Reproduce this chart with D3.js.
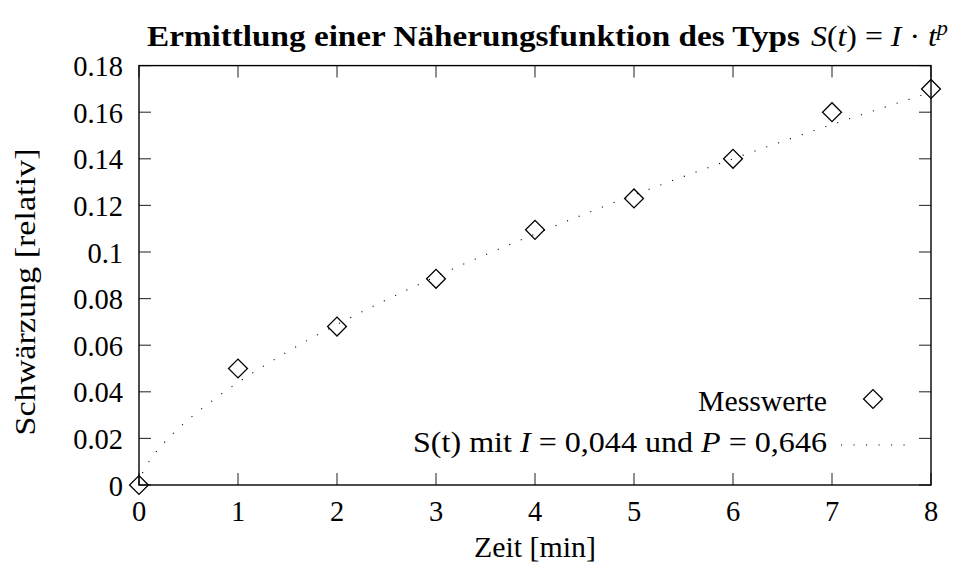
<!DOCTYPE html>
<html>
<head>
<meta charset="utf-8">
<script src="https://cdn.jsdelivr.net/npm/d3@7"></script>
<style>
  html, body { margin: 0; padding: 0; background: #fff; }
  svg { display: block; }
  text { font-family: "Liberation Serif", "Times New Roman", serif; fill: #000; }
</style>
</head>
<body>
<svg id="chart" width="954" height="565"></svg>
<script>
// ---- data ----
const measT = [0, 1, 2, 3, 4, 5, 6, 7, 8];
const measS = [0, 0.050, 0.068, 0.0885, 0.1095, 0.123, 0.140, 0.160, 0.170];

// fitted curve S(t) as drawn
const curveT = [0, 0.02, 0.05, 0.1, 0.2, 0.3, 0.5, 0.75, 1, 1.5, 2, 2.5, 3, 4, 5, 6, 7, 8];
const curveS = [0, 0.0035, 0.0064, 0.0100, 0.0156, 0.0202, 0.0281, 0.0365, 0.044, 0.0572, 0.0689, 0.0795, 0.0895, 0.1077, 0.1245, 0.1400, 0.1547, 0.1686];

const xTicks = [0, 1, 2, 3, 4, 5, 6, 7, 8];
const xTickLabels = ["0", "1", "2", "3", "4", "5", "6", "7", "8"];
const yTicks = [0, 0.02, 0.04, 0.06, 0.08, 0.1, 0.12, 0.14, 0.16, 0.18];
const yTickLabels = ["0", "0.02", "0.04", "0.06", "0.08", "0.1", "0.12", "0.14", "0.16", "0.18"];

const xLabel = "Zeit [min]";
const yLabel = "Schwärzung [relativ]";
const titleText = "Ermittlung einer Näherungsfunktion des Typs";
const legendMeas = "Messwerte";

// ---- layout ----
const L = 139, R = 931, T = 65.6, B = 485;
const FS = 28.5;
const svg = d3.select("#chart");

const x = d3.scaleLinear().domain([0, 8]).range([L, R]);
const y = d3.scaleLinear().domain([0, 0.18]).range([B, T]);

function fit(sel, target) {
  sel.attr("textLength", target).attr("lengthAdjust", "spacingAndGlyphs");
}

const tickLen = 12;
const tickG = svg.append("g").attr("stroke", "#333").attr("stroke-width", 1.1);
tickG.selectAll("line.xb").data(xTicks).join("line")
  .attr("x1", d => x(d)).attr("x2", d => x(d)).attr("y1", B).attr("y2", B - tickLen);
tickG.selectAll("line.xt").data(xTicks).join("line")
  .attr("x1", d => x(d)).attr("x2", d => x(d)).attr("y1", T).attr("y2", T + tickLen);
tickG.selectAll("line.yl").data(yTicks).join("line")
  .attr("x1", L).attr("x2", L + tickLen).attr("y1", d => y(d)).attr("y2", d => y(d));
tickG.selectAll("line.yr").data(yTicks).join("line")
  .attr("x1", R).attr("x2", R - tickLen).attr("y1", d => y(d)).attr("y2", d => y(d));

// frame
svg.append("rect").attr("x", L).attr("y", T).attr("width", R - L).attr("height", B - T)
  .attr("fill", "none").attr("stroke", "#000").attr("stroke-width", 1.4);

// tick labels
svg.append("g").selectAll("text").data(xTicks).join("text")
  .attr("x", d => x(d)).attr("y", 521).attr("text-anchor", "middle")
  .style("font-size", FS + "px").text((d, i) => xTickLabels[i]);
svg.append("g").selectAll("text").data(yTicks).join("text")
  .attr("x", 123).attr("y", d => y(d) + 10.5).attr("text-anchor", "end")
  .style("font-size", FS + "px").text((d, i) => yTickLabels[i]);

// axis labels
const xl = svg.append("text").attr("x", (L + R) / 2).attr("y", 557).attr("text-anchor", "middle")
  .style("font-size", FS + "px").text(xLabel);
fit(xl, 122);
const yl = svg.append("text").attr("transform", `translate(35,292) rotate(-90)`)
  .attr("text-anchor", "middle").style("font-size", FS + "px").text(yLabel);
fit(yl, 287);

// title
const tb = svg.append("text").attr("x", 147).attr("y", 46).style("font-size", FS + "px")
  .style("font-weight", "bold").text(titleText);
fit(tb, 653);
const tm = svg.append("text").attr("x", 811).attr("y", 46).style("font-size", FS + "px");
tm.append("tspan").style("font-style", "italic").text("S");
tm.append("tspan").text("(");
tm.append("tspan").style("font-style", "italic").text("t");
tm.append("tspan").text(") = ");
tm.append("tspan").style("font-style", "italic").text("I");
tm.append("tspan").text(" · ");
tm.append("tspan").style("font-style", "italic").text("t");
tm.append("tspan").style("font-style", "italic").style("font-size", "20px").attr("dy", -11).text("p");
fit(tm, 137);

// curve
const line = d3.line().x(d => x(d[0])).y(d => y(d[1])).curve(d3.curveMonotoneX);
svg.append("path").datum(curveT.map((t, i) => [t, curveS[i]]))
  .attr("d", line).attr("fill", "none").attr("stroke", "#000")
  .attr("stroke-width", 1.1).attr("stroke-dasharray", "1.1 11.4");

// markers
const diamond = d3.symbol().type(d3.symbolSquare).size(178);
svg.append("g").selectAll("path").data(measT.map((t, i) => [t, measS[i]])).join("path")
  .attr("d", diamond)
  .attr("transform", d => `translate(${x(d[0])},${y(d[1])}) rotate(45)`)
  .attr("fill", "none").attr("stroke", "#000").attr("stroke-width", 1.3);

// legend
const lm = svg.append("text").attr("x", 827).attr("y", 411).attr("text-anchor", "end")
  .style("font-size", FS + "px").text(legendMeas);
fit(lm, 129);
svg.append("path").attr("d", diamond)
  .attr("transform", `translate(873,399) rotate(45)`)
  .attr("fill", "none").attr("stroke", "#000").attr("stroke-width", 1.3);

const lf = svg.append("text").attr("x", 827).attr("y", 452).attr("text-anchor", "end")
  .style("font-size", FS + "px");
lf.append("tspan").text("S(t) mit ");
lf.append("tspan").style("font-style", "italic").text("I");
lf.append("tspan").text(" = 0,044 und ");
lf.append("tspan").style("font-style", "italic").text("P");
lf.append("tspan").text(" = 0,646");
fit(lf, 414);
svg.append("line").attr("x1", 841).attr("x2", 910).attr("y1", 445).attr("y2", 445)
  .attr("stroke", "#000").attr("stroke-width", 1.1).attr("stroke-dasharray", "1.1 11.4");
</script>
</body>
</html>
